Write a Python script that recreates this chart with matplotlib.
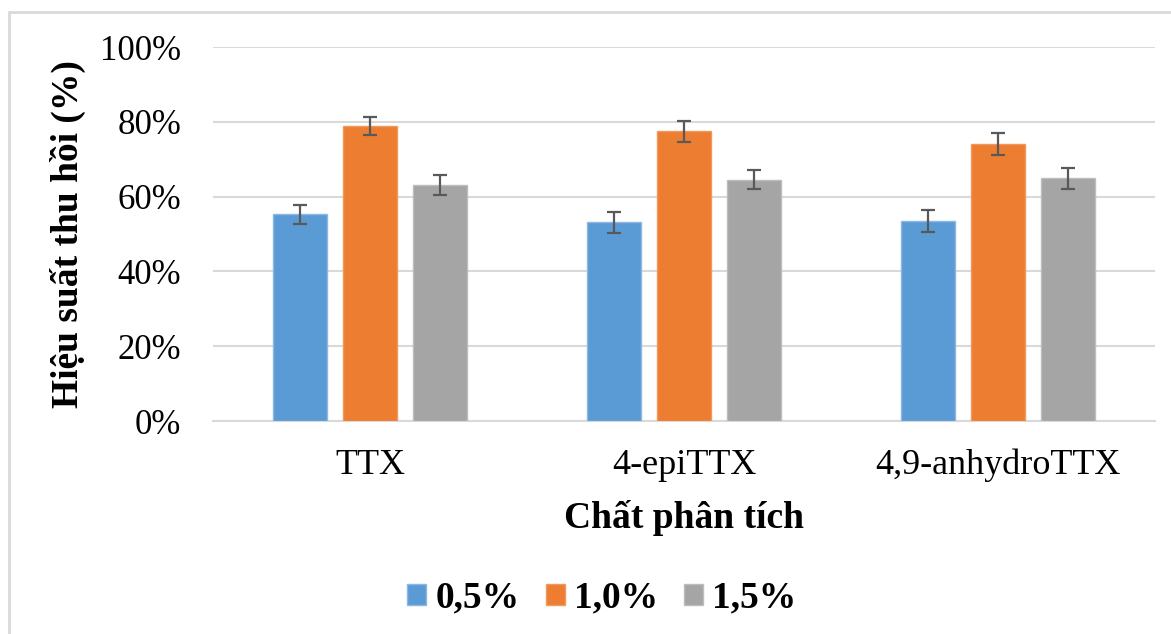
import numpy as np
import matplotlib
matplotlib.use("Agg")
import matplotlib.pyplot as plt
from matplotlib.patches import Rectangle

plt.rcParams['font.family'] = ['Liberation Serif', 'DejaVu Serif']

# data
categories = ['TTX', '4-epiTTX', '4,9-anhydroTTX']
series_names = ['0,5%', '1,0%', '1,5%']
values = {
    '0,5%': [55.3, 53.1, 53.5],
    '1,0%': [78.9, 77.5, 74.0],
    '1,5%': [63.1, 64.5, 64.9],
}
errors = {
    '0,5%': [2.5, 2.7, 2.9],
    '1,0%': [2.5, 2.8, 2.9],
    '1,5%': [2.8, 2.6, 2.8],
}
colors = ['#5B9BD5', '#ED7D31', '#A5A5A5']
edges = ['#8DB8E2', '#F0995E', '#BDBDBD']
yticks = [0, 20, 40, 60, 80, 100]

fig = plt.figure(figsize=(11.71, 6.34), dpi=100)
ax = fig.add_axes([213/1171, 1-421/634, (1155-213)/1171, (421-47)/634])

x = np.arange(len(categories))
step = 0.223
width = 0.175
for i, name in enumerate(series_names):
    ax.bar(x + (i-1)*step, values[name], width, color=colors[i],
           edgecolor=edges[i], linewidth=1, label=name, zorder=3,
           yerr=errors[name], capsize=5,
           error_kw=dict(ecolor='#595959', elinewidth=1.6, capthick=1.6, zorder=4))

ax.set_xlim(-0.5, 2.5)
ax.set_ylim(0, 100)
ax.set_yticks(yticks)
ax.set_yticklabels([f'{t}%' for t in yticks], fontsize=25)
ax.set_xticks(x)
ax.set_xticklabels(categories, fontsize=26)
ax.tick_params(length=0)
ax.tick_params(axis='x', pad=20)
ax.tick_params(axis='y', pad=23)
ax.grid(axis='y', color='#D9D9D9', linewidth=1.5, zorder=0)
ax.set_axisbelow(True)
for s in ['top', 'right', 'left']:
    ax.spines[s].set_visible(False)
ax.spines['bottom'].set_color('#D9D9D9')
ax.spines['bottom'].set_linewidth(1.5)

ax.set_xlabel('Chất phân tích', fontsize=27, fontweight='bold', labelpad=13)
ax.set_ylabel('Hiệu suất thu hồi (%)', fontsize=27, fontweight='bold', labelpad=10)

leg = fig.legend(loc='center', bbox_to_anchor=(602/1171, 1-598/634), ncol=3,
                 frameon=False, prop={'size': 27, 'weight': 'bold'},
                 handlelength=0.5, handleheight=0.5, handletextpad=0.25,
                 columnspacing=0.7)

fig.patches.append(Rectangle((9/1171, -0.1), 1.2, 1-12/634+0.1,
                             transform=fig.transFigure, fill=False,
                             edgecolor='#D9D9D9', linewidth=2))

fig.savefig('out.png', dpi=100)
